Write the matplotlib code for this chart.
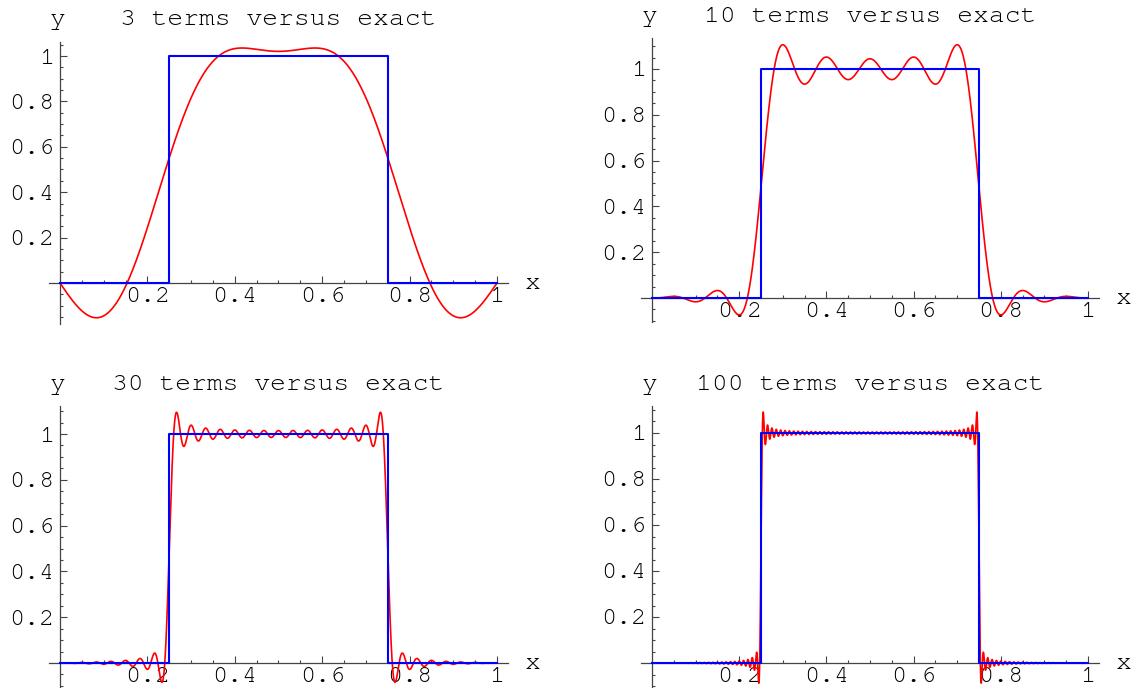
import numpy as np
import matplotlib
matplotlib.use("Agg")
import matplotlib.pyplot as plt
from matplotlib.ticker import MultipleLocator

plt.rcParams['font.family'] = ['FreeMono', 'Liberation Mono', 'DejaVu Sans Mono']

# exact function: unit step on [0.25, 0.75] over [0, 1]
step_x = [0, 0.25, 0.25, 0.75, 0.75, 1]
step_y = [0, 0, 1, 1, 0, 0]
box_a, box_b = 0.25, 0.75

# number of nonzero sine terms in each panel
term_counts = [3, 10, 30, 100]

tick_vals = [0.2, 0.4, 0.6, 0.8, 1]
tick_labels = ['0.2', '0.4', '0.6', '0.8', '1']

W, H = 1136, 688

# pixel layout per panel: (x of data 0, x of data 1, axes left, axes right,
#                          y of data 0, y of data 1, axes top, axes bottom)
layout = [
    (60, 497, 49, 508, 283, 56, 42, 324),
    (652, 1088, 641, 1099, 298, 69, 38, 322),
    (60, 497, 49, 508, 663, 434, 406, 688),
    (652, 1088, 641, 1099, 663, 433, 406, 688),
]
title_y = [20, 17, 385, 385]


def partial_sum(x, nterms):
    s = np.zeros_like(x)
    for k in range(nterms):
        n = 2 * k + 1
        bn = 2.0 / (n * np.pi) * (np.cos(n * np.pi * box_a) - np.cos(n * np.pi * box_b))
        s += bn * np.sin(n * np.pi * x)
    return s


xs = np.linspace(0, 1, 6000)

fig = plt.figure(figsize=(W / 100, H / 100), dpi=100)

for i, nt in enumerate(term_counts):
    x0, x1, left, right, y0, y1, top, bottom = layout[i]
    sx = x1 - x0
    sy = y0 - y1
    ax = fig.add_axes([left / W, 1 - bottom / H, (right - left) / W, (bottom - top) / H])
    ax.set_xlim((left - x0) / sx, (right - x0) / sx)
    ax.set_ylim((y0 - bottom) / sy, (y0 - top) / sy)
    ax.patch.set_visible(False)

    ax.plot(xs, partial_sum(xs, nt), color='red', lw=1.2, zorder=2)
    ax.plot(step_x, step_y, color='blue', lw=1.5, zorder=3)

    for side in ['top', 'right']:
        ax.spines[side].set_visible(False)
    for side in ['left', 'bottom']:
        ax.spines[side].set_position(('data', 0))
        ax.spines[side].set_color('#444444')
        ax.spines[side].set_linewidth(0.9)
        ax.spines[side].set_zorder(1)

    ax.set_xticks(tick_vals)
    ax.set_xticklabels(tick_labels)
    ax.set_yticks(tick_vals)
    ax.set_yticklabels(tick_labels)
    ax.xaxis.set_minor_locator(MultipleLocator(0.05))
    ax.yaxis.set_minor_locator(MultipleLocator(0.05))
    ax.tick_params(which='both', direction='in', color='#444444', width=0.8,
                   labelsize=18, labelcolor='black')
    ax.tick_params(which='major', length=5)
    ax.tick_params(which='minor', length=2.5)
    ax.tick_params(axis='x', pad=3)
    ax.tick_params(axis='y', pad=4)

    cx = (left + right) / 2
    fig.text(cx / W, 1 - title_y[i] / H, f'{nt} terms versus exact',
             ha='center', va='center', fontsize=19, color='black')
    fig.text((x0 - 2) / W, 1 - title_y[i] / H, 'y',
             ha='center', va='center', fontsize=19, color='black')
    fig.text((right + 25) / W, 1 - (y0 + 1) / H, 'x',
             ha='center', va='center', fontsize=19, color='black')

fig.savefig('out.png', dpi=100)
